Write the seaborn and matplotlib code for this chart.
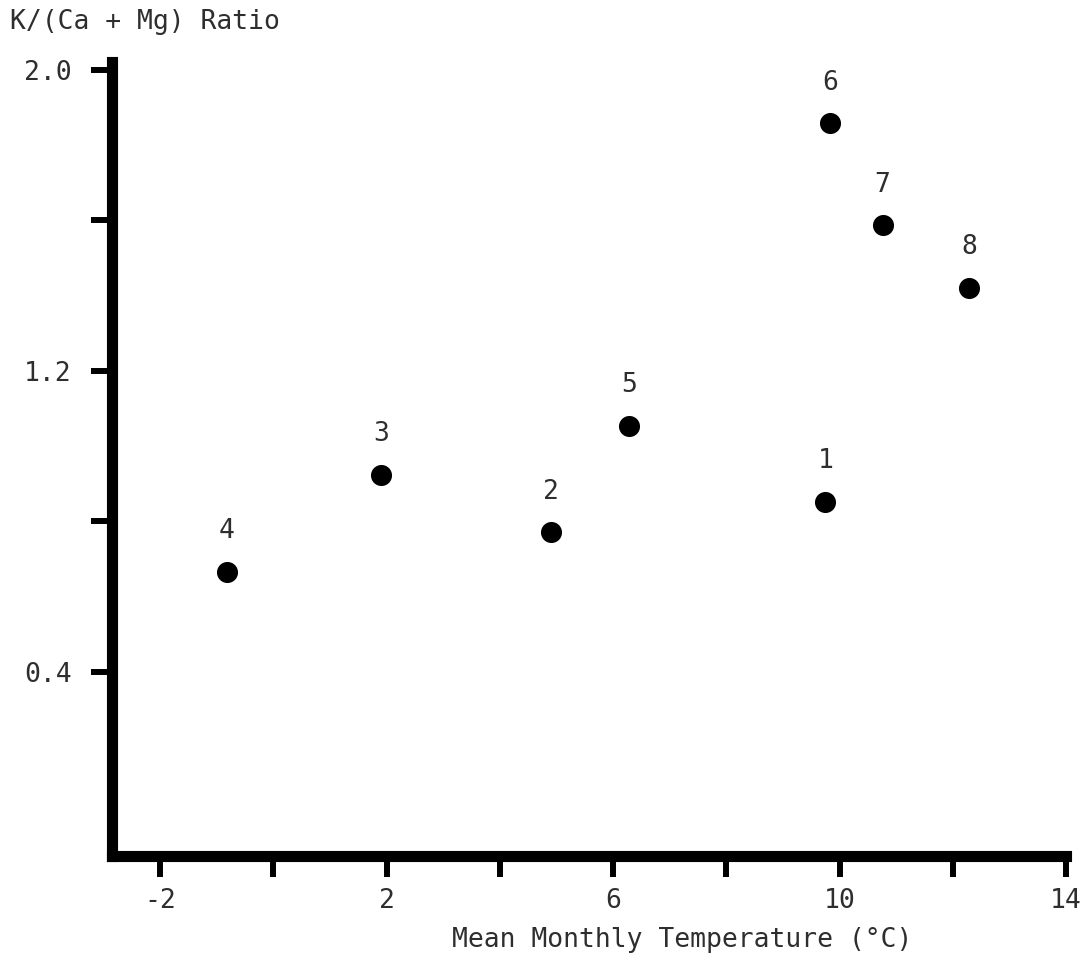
### Scatter of K/(Ca + Mg) ratio vs mean monthly temperature
import matplotlib
matplotlib.use('Agg')
import matplotlib.pyplot as plt
import seaborn as sns
import pandas as pd

# values
site_ids = ['1', '2', '3', '4', '5', '6', '7', '8']
temperature = [9.75, 4.91, 1.90, -0.82, 6.29, 9.84, 10.76, 12.29]
ratio = [0.852, 0.772, 0.924, 0.666, 1.054, 1.857, 1.586, 1.421]

x_ticks = [-2, 0, 2, 4, 6, 8, 10, 12, 14]
x_tick_labels = ['-2', '', '2', '', '6', '', '10', '', '14']
y_ticks = [0.4, 0.8, 1.2, 1.6, 2.0]
y_tick_labels = ['0.4', '', '1.2', '', '2.0']

df = pd.DataFrame({'site': site_ids, 'temp': temperature, 'ratio': ratio})

sns.set_style('ticks')
plt.rcParams['font.family'] = ['DejaVu Sans Mono', 'DejaVu Sans']
plt.rcParams['axes.unicode_minus'] = False

text_color = '#2e2e2e'

fig = plt.figure(figsize=(10.87, 9.64), dpi=100)
ax = fig.add_axes([0.103, 0.112, 0.8777, 0.8237])

sns.scatterplot(data=df, x='temp', y='ratio', ax=ax, s=230, color='black',
                edgecolor='black', linewidth=0, legend=False, zorder=3)

# point numbers above each marker
for _, row in df.iterrows():
    ax.annotate(row['site'], (row['temp'], row['ratio']), xytext=(0, 29),
                textcoords='offset points', ha='center', va='center',
                fontsize=19, color=text_color)

ax.set_xlim(-2.85, 14)
ax.set_ylim(-0.089, 2.02)
ax.set_xticks(x_ticks)
ax.set_xticklabels(x_tick_labels)
ax.set_yticks(y_ticks)
ax.set_yticklabels(y_tick_labels)
ax.tick_params(axis='both', direction='out', length=15, width=4.3,
               color='black', labelsize=19, labelcolor=text_color)
ax.tick_params(axis='x', pad=8)
ax.tick_params(axis='y', pad=14)

sns.despine(ax=ax)
for side in ['left', 'bottom']:
    ax.spines[side].set_linewidth(8)
    ax.spines[side].set_color('black')
    ax.spines[side].set_capstyle('projecting')

ax.set_xlabel('')
ax.set_ylabel('')
fig.text(0.009, 0.977, 'K/(Ca + Mg) Ratio', fontsize=19, color=text_color,
         ha='left', va='center')
fig.text(0.628, 0.025, 'Mean Monthly Temperature (°C)', fontsize=19,
         color=text_color, ha='center', va='center')

fig.savefig('out.png', dpi=100, facecolor='white')
